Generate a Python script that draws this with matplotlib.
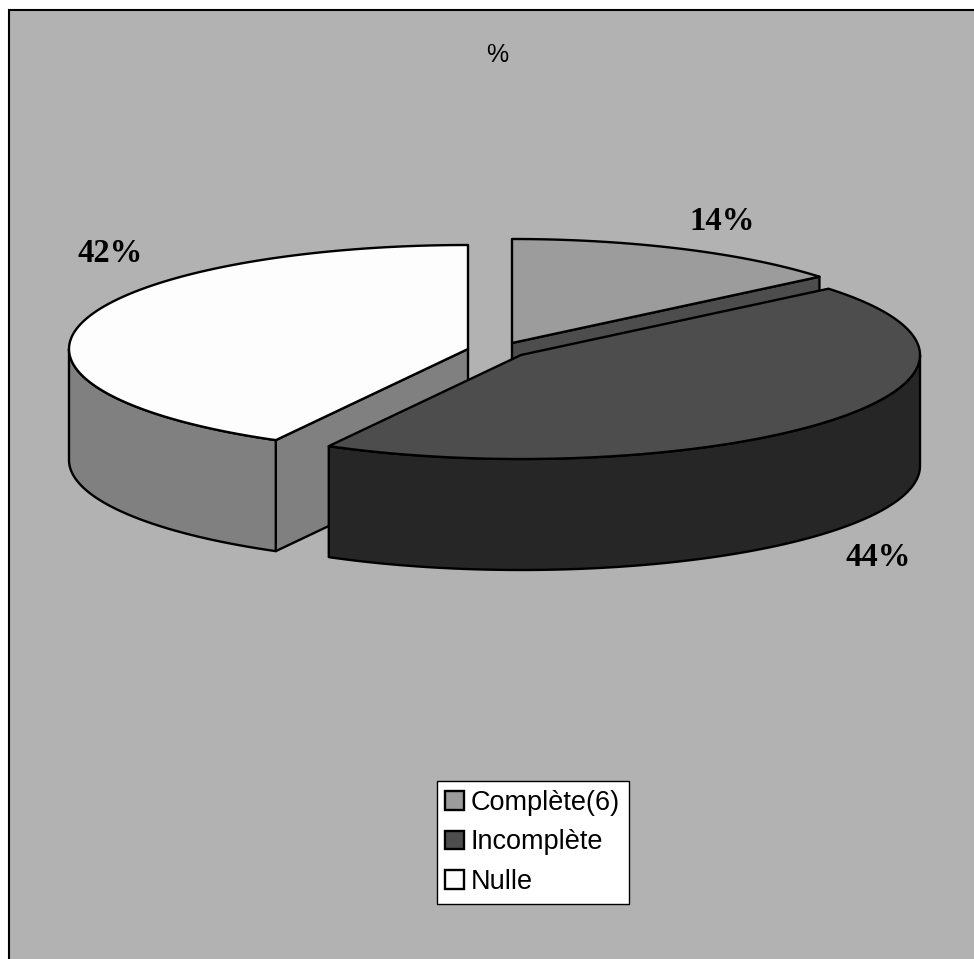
import numpy as np
import matplotlib
matplotlib.use("Agg")
import matplotlib.pyplot as plt
from matplotlib.patches import Polygon, Rectangle, Patch

# Données
categories = ["Complète(6)", "Incomplète", "Nulle"]
values = [14, 44, 42]
pct_labels = ["14%", "44%", "42%"]

# Couleurs (dessus, côté)
top_colors = ["#9C9C9C", "#4D4D4D", "#FDFDFD"]
side_colors = ["#4D4D4D", "#262626", "#808080"]

# Géométrie du camembert en pixels
rx, ry = 399, 104
depth = 111
centers = [(512, 343), (521, 355), (468, 349)]
label_pos = [(722, 221), (878, 557), (110, 253)]

W, H = 974, 959
LW = 1.7


def pt(c, a):
    return c[0] + rx*np.cos(a), c[1] - ry*np.sin(a)


def arc(c, a0, a1):
    a = np.linspace(a0, a1, 200)
    return np.column_stack(pt(c, a))


def down(pts):
    return pts + np.array([0, depth])


fig = plt.figure(figsize=(W/100, H/100), dpi=100, facecolor="white")
ax = fig.add_axes([0, 0, 1, 1])
ax.set_xlim(0, W)
ax.set_ylim(H, 0)
ax.axis("off")

# Fond
ax.add_patch(Rectangle((9, 10), W, H, fc="#B2B2B2", ec="black", lw=1.5, zorder=0))

# Angles des parts, sens horaire à partir du haut
total = sum(values)
edges = np.pi/2 - 2*np.pi*np.cumsum([0] + values)/total

# Coupe visible de chaque part (vers l'avant)
cuts = {0: edges[1], 2: edges[2]}

# Ordre de dessin : Nulle, Complète, Incomplète
z = 1
for i in [2, 0, 1]:
    c = np.array(centers[i], dtype=float)
    a0, a1 = edges[i], edges[i+1]

    if i in cuts:
        p = np.array(pt(c, cuts[i]))
        quad = np.array([c, p, p + [0, depth], c + [0, depth]])
        ax.add_patch(Polygon(quad, fc=side_colors[i], ec="black", lw=LW,
                             joinstyle="round", zorder=z))

    # Paroi extérieure : seulement la moitié avant de l'ellipse
    lo, hi = max(a1, -np.pi), min(a0, 0)
    if lo < hi:
        wall = arc(c, lo, hi)
        ax.add_patch(Polygon(np.vstack([wall, down(wall)[::-1]]), fc=side_colors[i],
                             ec="black", lw=LW, joinstyle="round", zorder=z))

    # Dessus de la part
    top = np.vstack([c, arc(c, a0, a1)])
    ax.add_patch(Polygon(top, fc=top_colors[i], ec="black", lw=LW,
                         joinstyle="round", zorder=z))
    z += 1

# Pourcentages
for (x, y), lab in zip(label_pos, pct_labels):
    ax.text(x, y, lab, family="Liberation Serif", weight="bold", fontsize=23.5,
            ha="center", va="center", color="black", zorder=10)

# Titre
ax.text(497, 55, "%", family="Liberation Sans", fontsize=18,
        ha="center", va="center", color="black", zorder=10)

# Légende
handles = [Patch(fc=col, ec="black", lw=LW) for col in top_colors]
leg = ax.legend(handles, categories, loc="upper left",
                bbox_to_anchor=(436.5, 781), bbox_transform=ax.transData,
                prop={"family": "Liberation Sans", "size": 19.5},
                frameon=True, fancybox=False, framealpha=1, facecolor="white",
                edgecolor="black", borderaxespad=0, borderpad=0.33,
                handlelength=0.67, handleheight=0.67, handletextpad=0.26,
                labelspacing=0.5, labelcolor="black")
leg.get_frame().set_linewidth(1.0)
leg.set_zorder(10)

fig.savefig("out.png", dpi=100, facecolor="white")
